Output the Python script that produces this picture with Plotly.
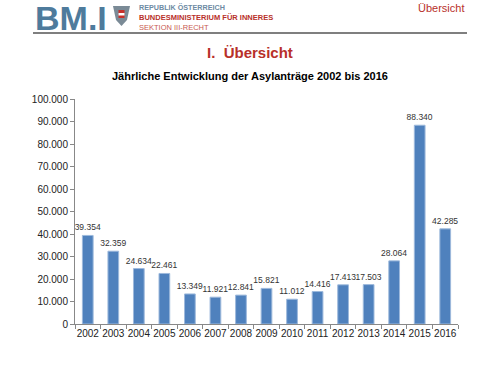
import plotly.graph_objects as go

years = ["2002","2003","2004","2005","2006","2007","2008","2009","2010","2011","2012","2013","2014","2015","2016"]
antraege = [39354, 32359, 24634, 22461, 13349, 11921, 12841, 15821, 11012, 14416, 17413, 17503, 28064, 88340, 42285]
y_ticks = [0, 10000, 20000, 30000, 40000, 50000, 60000, 70000, 80000, 90000, 100000]

W, H = 500, 375
L, R, T, B = 75, 42, 99, 51
PW, PH = W - L - R, H - T - B

fig = go.Figure(go.Bar(
    x=years, y=antraege,
    marker=dict(color="#4f81bd", line=dict(color="#9db9dc", width=1)),
    texttemplate="%{y:,}", textposition="outside", cliponaxis=False,
    constraintext="none",
    textfont=dict(family="Liberation Sans, Arial", size=8.5, color="#333333"),
    width=0.42,
))

# positions given in screenshot pixels
def px(x): return (x - L) / PW
def py(y): return (H - B - y) / PH

anns = []
shapes = []
anns.append(dict(x=px(33), y=py(-3), xref="paper", yref="paper", xanchor="left", yanchor="top",
                 text="<b>BM.I</b>", showarrow=False,
                 font=dict(family="Liberation Sans, Arial", size=34, color="#4e7b9c")))
anns.append(dict(x=px(137), y=py(1), xref="paper", yref="paper", xanchor="left", yanchor="top",
                 text="<b>REPUBLIK ÖSTERREICH</b>", showarrow=False,
                 font=dict(family="Liberation Sans, Arial", size=7.2, color="#6d8aa3")))
anns.append(dict(x=px(137), y=py(11), xref="paper", yref="paper", xanchor="left", yanchor="top",
                 text="<b>BUNDESMINISTERIUM FÜR INNERES</b>", showarrow=False,
                 font=dict(family="Liberation Sans, Arial", size=7.5, color="#b8302a")))
anns.append(dict(x=px(137), y=py(21), xref="paper", yref="paper", xanchor="left", yanchor="top",
                 text="SEKTION III-RECHT", showarrow=False,
                 font=dict(family="Liberation Sans, Arial", size=7.5, color="#c85a50")))
anns.append(dict(x=px(466), y=py(0), xref="paper", yref="paper", xanchor="right", yanchor="top",
                 text="Übersicht", showarrow=False,
                 font=dict(family="Liberation Sans, Arial", size=11, color="#b8302a")))
anns.append(dict(x=px(250), y=py(52), xref="paper", yref="paper", xanchor="center", yanchor="middle",
                 text="<b>I.  Übersicht</b>", showarrow=False,
                 font=dict(family="Liberation Sans, Arial", size=15, color="#b8302a")))
anns.append(dict(x=px(250), y=py(76), xref="paper", yref="paper", xanchor="center", yanchor="middle",
                 text="<b>Jährliche Entwicklung der Asylanträge 2002 bis 2016</b>", showarrow=False,
                 font=dict(family="Liberation Sans, Arial", size=11, color="#000000")))
# eagle placeholder
shapes.append(dict(type="path", xref="paper", yref="paper",
                   path=f"M {px(113)} {py(6)} L {px(130)} {py(6)} L {px(127)} {py(20)} L {px(121.5)} {py(26)} L {px(116)} {py(20)} Z",
                   fillcolor="#7a8a96", line=dict(width=0)))
shapes.append(dict(type="rect", xref="paper", yref="paper",
                   x0=px(118.5), x1=px(124.5), y0=py(18), y1=py(10),
                   fillcolor="#c8302a", line=dict(width=0)))
shapes.append(dict(type="rect", xref="paper", yref="paper",
                   x0=px(118.5), x1=px(124.5), y0=py(15.5), y1=py(13),
                   fillcolor="#ffffff", line=dict(width=0)))
# header rule
shapes.append(dict(type="line", xref="paper", yref="paper",
                   x0=px(33), x1=px(467), y0=py(33), y1=py(33),
                   line=dict(color="#555555", width=1.5)))

fig.update_layout(
    width=W, height=H,
    margin=dict(l=L, r=R, t=T, b=B),
    plot_bgcolor="white", paper_bgcolor="white",
    separators=",.",
    showlegend=False,
    annotations=anns, shapes=shapes,
    xaxis=dict(showline=True, linecolor="#888888", linewidth=1, ticks="outside",
               tickson="boundaries", ticklen=4, tickcolor="#888888", tickangle=0,
               tickfont=dict(family="Liberation Sans, Arial", size=10, color="#222222"),
               showgrid=False),
    yaxis=dict(range=[0, 100000], tickvals=y_ticks, tickformat=",",
               showline=True, linecolor="#888888", linewidth=1, ticks="outside",
               ticklen=4, tickcolor="#888888", showgrid=False, zeroline=False,
               tickfont=dict(family="Liberation Sans, Arial", size=10, color="#222222")),
)

fig.write_html("out.html", config={"displayModeBar": False},
               post_script="document.body.style.margin='0';")
